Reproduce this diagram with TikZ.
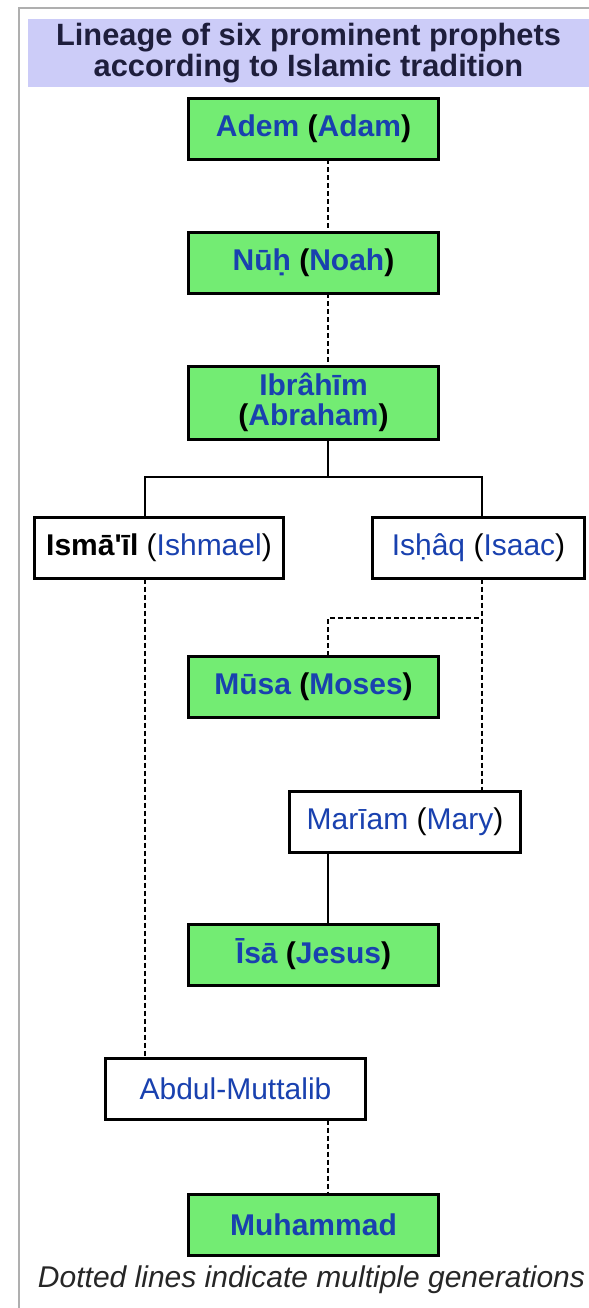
\documentclass[tikz,border=0pt]{standalone}
\usepackage{fontspec}
\setmainfont{Liberation Sans}[Ligatures=TeXOff]
\usetikzlibrary{positioning}

\definecolor{prophetgreen}{RGB}{115,236,115}
\definecolor{nameblue}{RGB}{25,65,175}
\definecolor{titleband}{RGB}{204,204,248}
\definecolor{titleink}{RGB}{30,30,60}
\definecolor{framegrey}{RGB}{175,175,175}
\newcommand{\pname}[2]{\textcolor{nameblue}{#1} (\textcolor{nameblue}{#2})}

\begin{document}
\begin{tikzpicture}[x=0.5pt,y=-0.5pt,font=\fontsize{15}{15}\selectfont]
\tikzset{every node/.style={inner sep=0pt, outer sep=0pt}}

\tikzstyle{prophet}=[rectangle,draw=black,fill=prophetgreen,line width=1.5pt,minimum width=125pt,minimum height=30.5pt,font=\fontsize{15}{15}\selectfont\bfseries,align=center]
\tikzstyle{kin}=[rectangle,draw=black,fill=white,line width=1.5pt,minimum height=30.5pt]
\tikzstyle{descent}=[line width=1.2pt]
\tikzstyle{generations}=[line width=1.2pt,dash pattern=on 2.5pt off 1.5pt]

\useasboundingbox (0,0) rectangle (589,1308);
\draw[framegrey,line width=0.75pt] (19,1308) -- (19,8) -- (589,8);

\node[fill=titleband,minimum width=280.5pt,minimum height=34pt,text=titleink,align=center,
      font=\fontsize{15.4}{14}\selectfont\bfseries] (title) at (308.5,53)
      {Lineage of six prominent prophets\\according to Islamic tradition};

% main column
\node[prophet] (adem) at (313.5,128.5) {\pname{Adem}{Adam}};
\node[prophet, below=36.5pt of adem] (nuh) {\pname{Nūḥ}{Noah}};
\node[prophet, below=36.5pt of nuh, minimum height=36.5pt] (ibrahim)
      {\textcolor{nameblue}{Ibrâhīm}\\(\textcolor{nameblue}{Abraham})};
\node[prophet, below=108.5pt of ibrahim] (musa) {\pname{Mūsa}{Moses}};
\node[prophet, below=103.5pt of musa] (isa) {\pname{Īsā}{Jesus}};
\node[prophet, below=104.5pt of isa] (muhammad) {\textcolor{nameblue}{Muhammad}};

% side branches
\node[kin, minimum width=124.5pt] (ismail) at (159,548) {{\bfseries Ismā'īl} (\textcolor{nameblue}{Ishmael})};
\node[kin, minimum width=106pt] (ishaq) at (478.5,548) {\pname{Isḥâq}{Isaac}};
\node[kin, minimum width=115.5pt] (mariam) at (405,821.5) {\pname{Marīam}{Mary}};
\node[kin, minimum width=130pt] (abdul) at (235.5,1089) {\textcolor{nameblue}{Abdul-Muttalib}};

\node[anchor=west, font=\fontsize{15}{15}\selectfont\itshape, text=black!85] (caption) at (38,1280)
      {Dotted lines indicate multiple generations};

% line columns
\coordinate (spine) at (328,0);
\coordinate (leftline) at (145,0);
\coordinate (rightline) at (482,0);
\coordinate (fork) at (328,477);
\coordinate (musa bend) at (482,618);

\draw[generations] (adem.south -| spine) -- (nuh.north -| spine);
\draw[generations] (nuh.south -| spine) -- (ibrahim.north -| spine);
\draw[descent] (ibrahim.south -| spine) -- (fork);
\draw[descent] (ismail.north -| leftline) |- (fork) -| (ishaq.north -| rightline);

\draw[generations] (ismail.south -| leftline) -- (abdul.north -| leftline);
\draw[generations] (ishaq.south -| rightline) -- (mariam.north -| rightline);
\draw[generations] (musa.north -| spine) |- (musa bend);
\draw[descent] (mariam.south -| spine) -- (isa.north -| spine);
\draw[generations] (abdul.south -| spine) -- (muhammad.north -| spine);

\end{tikzpicture}
\end{document}
